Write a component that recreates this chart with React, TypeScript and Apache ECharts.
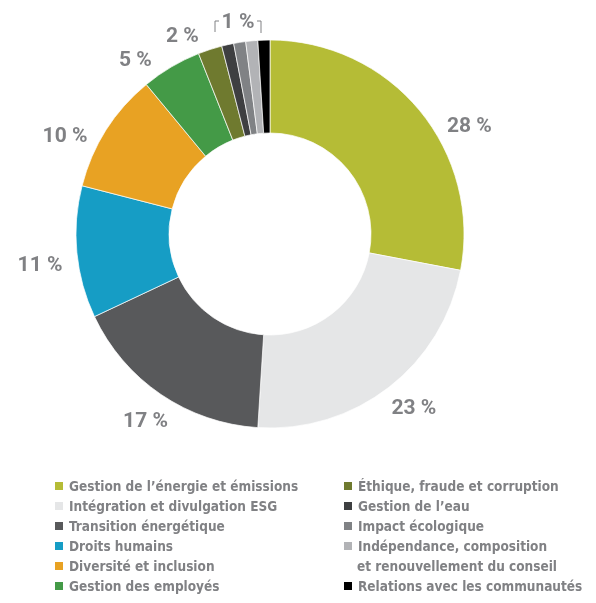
import React, { useEffect, useRef } from "react";
import * as echarts from "echarts";

const categories = [
  "Gestion de l’énergie et émissions",
  "Intégration et divulgation ESG",
  "Transition énergétique",
  "Droits humains",
  "Diversité et inclusion",
  "Gestion des employés",
  "Éthique, fraude et corruption",
  "Gestion de l’eau",
  "Impact écologique",
  "Indépendance, composition et renouvellement du conseil",
  "Relations avec les communautés",
];
const values = [28, 23, 17, 11, 10, 5, 2, 1, 1, 1, 1];
const colors = [
  "#b5bc36",
  "#e5e6e7",
  "#58595b",
  "#169dc5",
  "#e8a223",
  "#449a47",
  "#6f7a2f",
  "#3e3f41",
  "#808285",
  "#b2b3b6",
  "#000000",
];
const leftLegend = categories.slice(0, 6);
const rightLegendTop = categories.slice(6, 10);
const rightLegendBottom = categories.slice(10);
const groupedLabel = "1 %";
const secondLine = "et renouvellement du conseil";

const LEGEND_FONT = "'DejaVu Sans Condensed', 'Liberation Sans Narrow', sans-serif";
const LABEL_FONT = "Roboto, 'Liberation Sans', sans-serif";
const GREY = "#808184";

export default function App() {
  const ref = useRef<HTMLDivElement>(null);
  useEffect(() => {
    if (!ref.current) return;
    const chart = echarts.init(ref.current, null, { renderer: "svg" });
    const labelOffsets: Record<number, [number, number]> = {
      0: [26, 34],
      1: [6, -5],
      2: [2, 0],
      3: [-6, 9],
      4: [-15, 22],
      5: [-20, 19],
      6: [-18, 15],
    };
    const legendCommon = {
      orient: "vertical" as const,
      itemGap: 0,
      itemWidth: 10,
      itemHeight: 10,
      padding: 0,
      icon: "rect",
      selectedMode: false,
      textStyle: {
        fontFamily: LEGEND_FONT,
        fontSize: 13.5,
        fontWeight: "bold" as const,
        color: GREY,
        lineHeight: 20,
      },
      formatter: (n: string) =>
        n.startsWith("Indépendance") ? "Indépendance, composition" : n,
    };
    chart.setOption({
      animation: false,
      color: colors,
      legend: [
        { ...legendCommon, left: 53, top: 476, data: leftLegend },
        { ...legendCommon, left: 342, top: 476, data: rightLegendTop },
        { ...legendCommon, left: 342, top: 576, data: rightLegendBottom },
      ],
      graphic: [
        {
          type: "polyline",
          shape: { points: [[215, 32], [215, 21], [219, 21]] },
          style: { stroke: GREY, lineWidth: 1, fill: "none" },
        },
        {
          type: "polyline",
          shape: { points: [[257, 21], [261, 21], [261, 33]] },
          style: { stroke: GREY, lineWidth: 1, fill: "none" },
        },
        {
          type: "text",
          x: 238,
          y: 21,
          style: {
            text: groupedLabel,
            fontFamily: LABEL_FONT,
            fontSize: 21,
            fontWeight: "bold",
            fill: GREY,
            align: "center",
            verticalAlign: "middle",
          },
        },
        {
          type: "text",
          x: 357,
          y: 566,
          style: {
            text: secondLine,
            fontFamily: LEGEND_FONT,
            fontSize: 13.5,
            fontWeight: "bold",
            fill: GREY,
            align: "left",
            verticalAlign: "middle",
          },
        },
      ],
      series: [
        {
          type: "pie",
          center: [270, 234],
          radius: [101, 194],
          startAngle: 90,
          clockwise: true,
          silent: true,
          label: { show: false },
          labelLine: { show: false },
          itemStyle: { borderColor: "#ffffff", borderWidth: 0.7 },
          emphasis: { disabled: true },
          data: categories.map((name, i) => ({ name, value: values[i] })),
        },
        {
          type: "pie",
          center: [270, 234],
          radius: [215, 229],
          startAngle: 90,
          clockwise: true,
          silent: true,
          itemStyle: { color: "rgba(0,0,0,0)" },
          emphasis: { disabled: true },
          labelLine: { show: false },
          labelLayout: { hideOverlap: false },
          label: {
            show: true,
            position: "inside",
            fontFamily: LABEL_FONT,
            fontSize: 21,
            fontWeight: "bold",
            color: GREY,
            formatter: (p: any) => `${p.value} %`,
          },
          data: values.map((v, i) => ({
            value: v,
            label:
              i in labelOffsets
                ? { show: true, offset: labelOffsets[i] }
                : { show: false },
          })),
        },
      ],
    });
    return () => chart.dispose();
  }, []);
  return (
    <div
      ref={ref}
      style={{ position: "fixed", left: 0, top: 0, width: 596, height: 603 }}
    />
  );
}
